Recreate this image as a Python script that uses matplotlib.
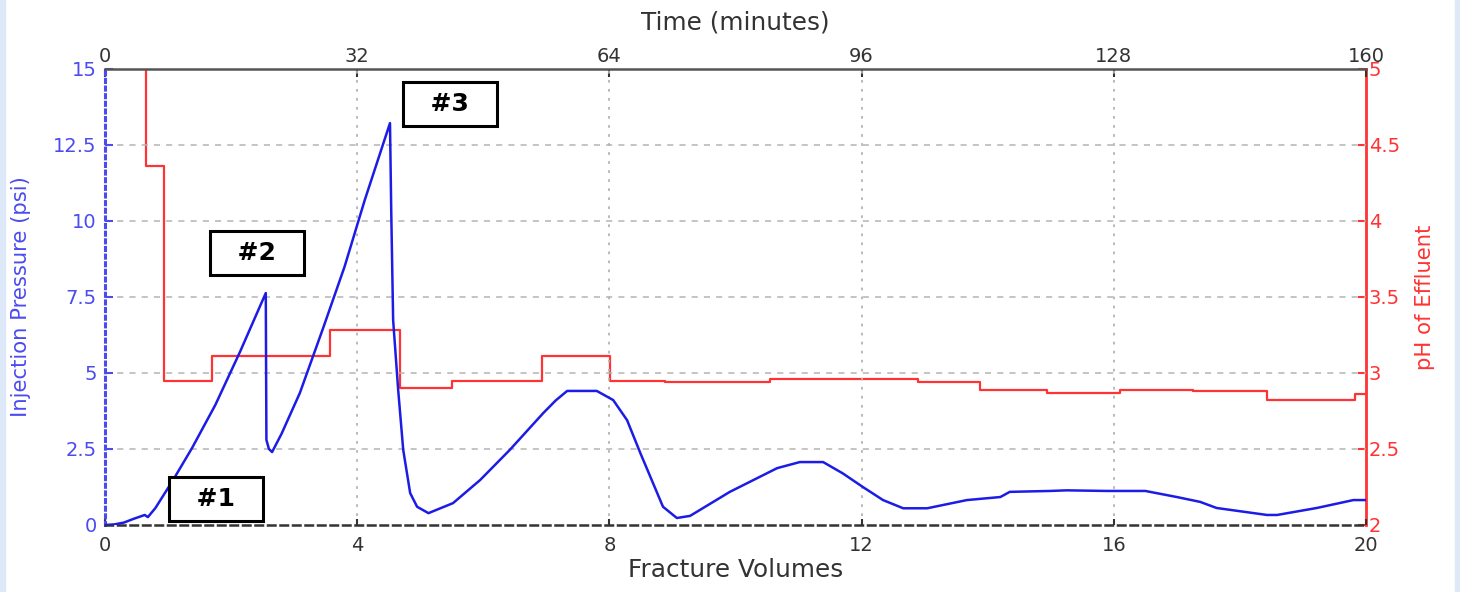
import matplotlib
matplotlib.use("Agg")
import matplotlib.pyplot as plt
from matplotlib.ticker import FuncFormatter
from matplotlib.patches import Rectangle

plt.rcParams['font.family'] = ['DejaVu Sans']

# ---- data ----
fv = [0, 0.15, 0.3, 0.45, 0.63, 0.68, 0.8, 1.08, 1.38, 1.75, 2.14, 2.55,
      2.56, 2.6, 2.65, 2.8, 3.09, 3.46, 3.8, 4.12, 4.52,
      4.54, 4.57, 4.65, 4.73, 4.84, 4.95, 5.13, 5.52, 5.95, 6.42, 6.95, 7.15,
      7.33, 7.8, 8.06, 8.28, 8.49, 8.85, 9.07, 9.28, 9.91, 10.66, 11.02, 11.39,
      11.7, 12.02, 12.34, 12.66, 13.04, 13.67, 14.2, 14.35, 14.99, 15.25, 15.89,
      16.5, 17.0, 17.37, 17.63, 18.43, 18.59, 19.22, 19.8, 20.0]
pressure = [0, 0.02, 0.08, 0.2, 0.33, 0.26, 0.56, 1.48, 2.53, 3.95, 5.69, 7.63,
            2.8, 2.5, 2.4, 3.0, 4.34, 6.48, 8.5, 10.69, 13.22,
            10.3, 6.74, 4.44, 2.47, 1.05, 0.6, 0.39, 0.72, 1.48, 2.47, 3.68, 4.1,
            4.41, 4.41, 4.11, 3.45, 2.37, 0.6, 0.23, 0.3, 1.09, 1.87, 2.07, 2.07,
            1.7, 1.25, 0.82, 0.55, 0.55, 0.82, 0.92, 1.09, 1.12, 1.14, 1.12,
            1.12, 0.92, 0.76, 0.56, 0.33, 0.33, 0.56, 0.82, 0.82]

ph_fv = [0.65, 0.65, 0.94, 1.70, 3.57, 4.68, 5.5, 6.93, 8.01, 8.88, 10.55,
         12.9, 13.88, 14.94, 16.1, 17.26, 18.43, 19.83, 20.0]
ph = [5.3, 4.36, 2.95, 3.11, 3.28, 2.90, 2.95, 3.11, 2.95, 2.94, 2.96,
      2.94, 2.89, 2.87, 2.89, 2.88, 2.82, 2.86, 2.86]

left_ticks = [0, 2.5, 5, 7.5, 10, 12.5, 15]
right_ticks = [2, 2.5, 3, 3.5, 4, 4.5, 5]
bottom_ticks = [0, 4, 8, 12, 16, 20]
top_ticks = [0, 32, 64, 96, 128, 160]
min_per_fv = 8

labels = ['#1', '#2', '#3']
label_x = [1.76, 2.41, 5.47]
label_y = [0.86, 8.95, 13.85]

BLUE = '#1c1ce6'
BLUE_T = '#4b4bf0'
RED = '#ff3333'
DARK = '#333333'
GRID = '#b4b4b4'

fig = plt.figure(figsize=(14.6, 5.92), dpi=100, facecolor='white')
fig.patches.append(Rectangle((0, 0), 5 / 1460, 1, transform=fig.transFigure,
                             color='#dde8f8', zorder=-1))
fig.patches.append(Rectangle((1455 / 1460, 0), 5 / 1460, 1, transform=fig.transFigure,
                             color='#dde8f8', zorder=-1))

ax = fig.add_axes([105 / 1460, 67 / 592, (1366 - 105) / 1460, (525 - 69) / 592])
ax2 = ax.twinx()
ax.set_zorder(ax2.get_zorder() + 1)
ax.patch.set_visible(False)

# red pH step line
ax2.plot(ph_fv, ph, drawstyle='steps-post', color=RED, lw=1.6)
ax2.set_ylim(2, 5)
ax2.set_yticks(right_ticks)
ax2.yaxis.set_major_formatter(FuncFormatter(lambda v, p: '%g' % v))
ax2.tick_params(axis='y', direction='in', colors=RED, labelsize=14, length=6, width=1.5, pad=2)
ax2.set_ylabel('pH of Effluent', color=RED, fontsize=15.2, labelpad=11)

# grid
for yv in left_ticks[1:-1]:
    ax.axhline(yv, color=GRID, lw=1.1, ls=(0, (4, 4)), zorder=0.5)
for xv in bottom_ticks[1:-1]:
    ax.axvline(xv, color=GRID, lw=1.3, ls=(0, (1.5, 3.5)), zorder=0.5)

# blue pressure curve
ax.plot(fv, pressure, color=BLUE, lw=1.8, zorder=3)
ax.set_xlim(0, 20)
ax.set_ylim(0, 15)
ax.set_xticks(bottom_ticks)
ax.set_yticks(left_ticks)
ax.yaxis.set_major_formatter(FuncFormatter(lambda v, p: '%g' % v))
ax.tick_params(axis='y', direction='in', colors=BLUE_T, labelsize=14, length=6, width=1.5, pad=6)
ax.tick_params(axis='x', direction='in', colors=DARK, labelsize=14, length=4, width=1.5, pad=8)
ax.set_xlabel('Fracture Volumes', fontsize=17.8, color=DARK, labelpad=2)
ax.set_ylabel('Injection Pressure (psi)', fontsize=15.2, color=BLUE_T, labelpad=16)

for s in ['left', 'right', 'top', 'bottom']:
    ax2.spines[s].set_visible(False)
ax.spines['right'].set_visible(False)
ax2.spines['right'].set_visible(True)
ax2.spines['right'].set_color(RED)
ax2.spines['right'].set_linewidth(2)
ax.spines['left'].set_color(BLUE_T)
ax.spines['left'].set_linestyle((0, (1, 1.5)))
ax.spines['left'].set_linewidth(2.2)
ax.spines['bottom'].set_color(DARK)
ax.spines['bottom'].set_linestyle((0, (3, 2)))
ax.spines['bottom'].set_linewidth(1.8)
ax.spines['top'].set_color('#555555')
ax.spines['top'].set_linewidth(1.8)

secax = ax.secondary_xaxis('top', functions=(lambda x: x * min_per_fv, lambda t: t / min_per_fv))
secax.set_xticks(top_ticks)
secax.tick_params(direction='in', colors=DARK, labelsize=14, length=6, width=1.5, pad=2)
secax.spines['top'].set_visible(False)
secax.set_xlabel('Time (minutes)', fontsize=17.8, color=DARK, labelpad=13)

for t, x, y in zip(labels, label_x, label_y):
    ax.text(x, y, '  ' + t + '  ', ha='center', va='center', fontsize=18,
            fontweight='bold', color='black', zorder=5,
            bbox=dict(boxstyle='square,pad=0.4', fc='white', ec='black', lw=2.2))

fig.savefig('out.png', dpi=100, facecolor=fig.get_facecolor())
